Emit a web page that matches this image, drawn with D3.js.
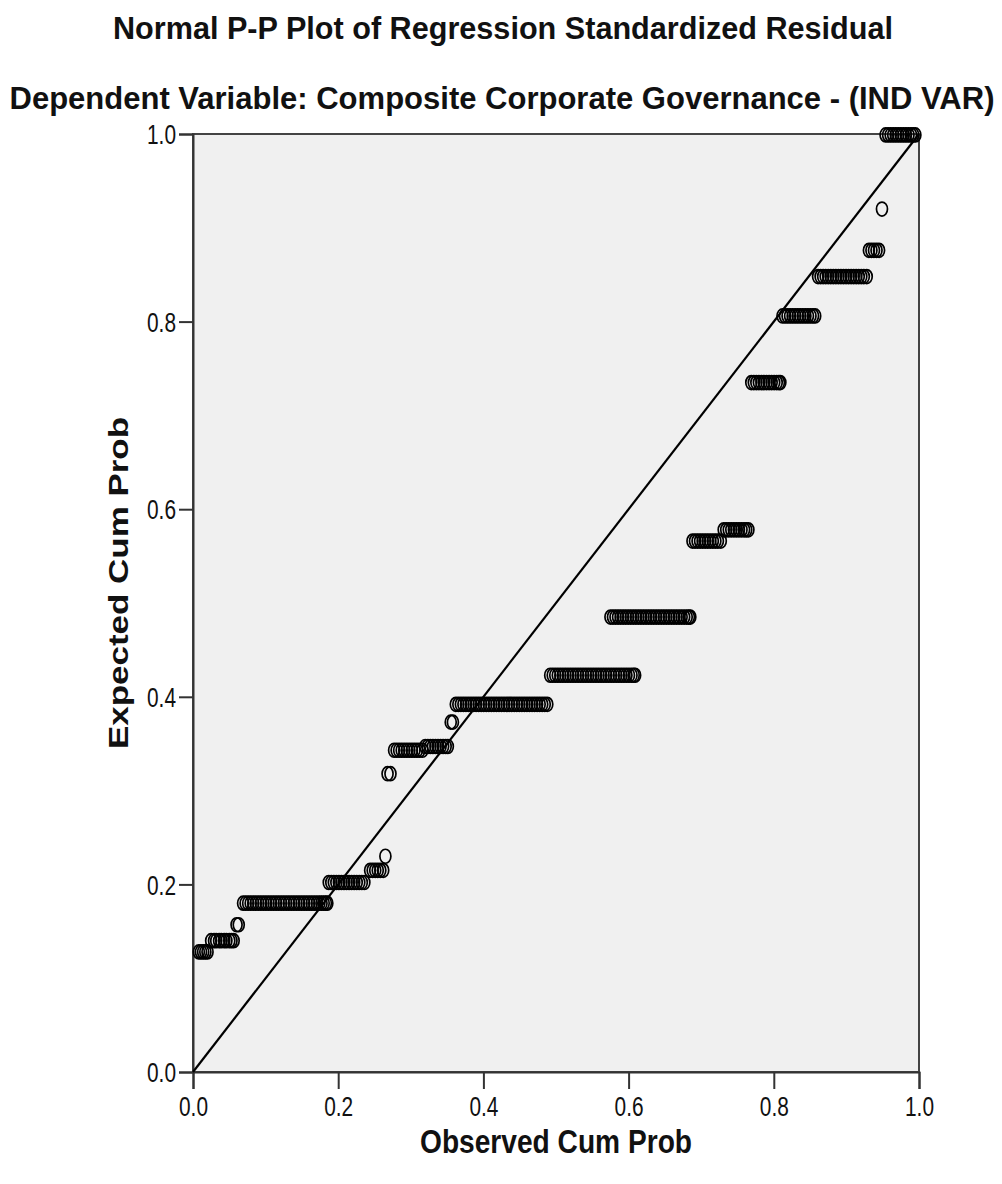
<!DOCTYPE html>
<html>
<head>
<meta charset="utf-8">
<script src="https://cdn.jsdelivr.net/npm/d3@7"></script>
<style>
  body { margin: 0; background: #fff; }
  text { font-family: "Liberation Sans", Arial, sans-serif; fill: #111; }
</style>
</head>
<body>
<div id="main"></div>
<script>
const ctx = { w: 1002, h: 1184 };
const margin = { top: 134, right: 83, bottom: 112, left: 193 };

const titleText = "Normal P-P Plot of Regression Standardized Residual";
const subtitleText = "Dependent Variable: Composite Corporate Governance - (IND VAR)";
const xLabel = "Observed Cum Prob";
const yLabel = "Expected Cum Prob";
const tickValues = [0, 0.2, 0.4, 0.6, 0.8, 1.0];

// expected cum prob of each tie group
const expected = [0.128, 0.140, 0.157, 0.180, 0.202, 0.215, 0.230, 0.318, 0.343, 0.347, 0.373,
                  0.392, 0.423, 0.485, 0.566, 0.578, 0.735, 0.806, 0.848, 0.876, 0.920, 0.999];
// observed cum prob of the cases in each group
const observed = [
    [0.008, 0.011, 0.014, 0.017, 0.020],
    [0.025, 0.029, 0.032, 0.036, 0.039, 0.043, 0.046, 0.050, 0.053, 0.056],
    [0.060, 0.063],
    [0.069, 0.0725, 0.076, 0.0795, 0.083, 0.0865, 0.090, 0.0935, 0.097, 0.1005, 0.104, 0.1075, 0.111, 0.1145,
     0.118, 0.1215, 0.125, 0.1285, 0.132, 0.1355, 0.139, 0.1425, 0.146, 0.1495, 0.153, 0.1565, 0.160, 0.1635,
     0.167, 0.1705, 0.174, 0.177, 0.180, 0.183, 0.185],
    [0.187, 0.1905, 0.194, 0.1975, 0.201, 0.2045, 0.208, 0.2115, 0.215, 0.2185, 0.222, 0.2255, 0.229, 0.2325, 0.236],
    [0.244, 0.2475, 0.251, 0.2545, 0.258, 0.262],
    [0.265],
    [0.268, 0.272],
    [0.277, 0.2805, 0.284, 0.2875, 0.291, 0.2945, 0.298, 0.3015, 0.305, 0.3085, 0.312, 0.316],
    [0.320, 0.3235, 0.327, 0.3305, 0.334, 0.3375, 0.341, 0.3445, 0.348, 0.351],
    [0.355, 0.358],
    [0.362, 0.3655, 0.369, 0.3725, 0.376, 0.3795, 0.383, 0.3865, 0.390, 0.3935, 0.397, 0.4005, 0.404, 0.4075,
     0.411, 0.4145, 0.418, 0.4215, 0.425, 0.4285, 0.432, 0.4355, 0.439, 0.4425, 0.446, 0.4495, 0.453, 0.4565,
     0.460, 0.4635, 0.467, 0.4705, 0.474, 0.4775, 0.481, 0.4845, 0.488],
    [0.492, 0.4955, 0.499, 0.5025, 0.506, 0.5095, 0.513, 0.5165, 0.520, 0.5235, 0.527, 0.5305, 0.534, 0.5375,
     0.541, 0.5445, 0.548, 0.5515, 0.555, 0.5585, 0.562, 0.5655, 0.569, 0.5725, 0.576, 0.5795, 0.583, 0.5865,
     0.590, 0.5935, 0.597, 0.6005, 0.604, 0.607, 0.609],
    [0.575, 0.5785, 0.582, 0.5855, 0.589, 0.5925, 0.596, 0.5995, 0.603, 0.6065, 0.610, 0.6135, 0.617, 0.6205,
     0.624, 0.6275, 0.631, 0.6345, 0.638, 0.6415, 0.645, 0.6485, 0.652, 0.6555, 0.659, 0.6625, 0.666, 0.6695,
     0.673, 0.6765, 0.680, 0.683, 0.685],
    [0.688, 0.6915, 0.695, 0.6985, 0.702, 0.7055, 0.709, 0.7125, 0.716, 0.7195, 0.723, 0.727],
    [0.731, 0.7345, 0.738, 0.7415, 0.745, 0.7485, 0.752, 0.7555, 0.759, 0.762, 0.765],
    [0.769, 0.7725, 0.776, 0.7795, 0.783, 0.7865, 0.790, 0.7935, 0.797, 0.8005, 0.804, 0.807, 0.809],
    [0.812, 0.8155, 0.819, 0.8225, 0.826, 0.8295, 0.833, 0.8365, 0.840, 0.8435, 0.847, 0.8505, 0.854, 0.857],
    [0.861, 0.8645, 0.868, 0.8715, 0.875, 0.8785, 0.882, 0.8855, 0.889, 0.8925, 0.896, 0.8995, 0.903, 0.9065,
     0.910, 0.9135, 0.917, 0.9205, 0.924, 0.928],
    [0.931, 0.9345, 0.938, 0.9415, 0.945],
    [0.949],
    [0.954, 0.9575, 0.961, 0.9645, 0.968, 0.9715, 0.975, 0.9785, 0.982, 0.9855, 0.989, 0.992, 0.995]
];

function createViz() {
    const svg = d3.select("#main").append("svg")
        .attr("width", ctx.w)
        .attr("height", ctx.h);

    const pw = ctx.w - margin.left - margin.right;
    const ph = ctx.h - margin.top - margin.bottom;

    const x = d3.scaleLinear().domain([0, 1]).range([0, pw]);
    const y = d3.scaleLinear().domain([0, 1]).range([ph, 0]);

    // titles
    svg.append("text")
        .attr("x", 503).attr("y", 39)
        .attr("text-anchor", "middle")
        .attr("textLength", 780).attr("lengthAdjust", "spacingAndGlyphs")
        .style("font-size", "31px").style("font-weight", "bold")
        .text(titleText);
    svg.append("text")
        .attr("x", 502).attr("y", 109)
        .attr("text-anchor", "middle")
        .attr("textLength", 985).attr("lengthAdjust", "spacingAndGlyphs")
        .style("font-size", "31px").style("font-weight", "bold")
        .text(subtitleText);

    const g = svg.append("g")
        .attr("transform", `translate(${margin.left},${margin.top})`);

    g.append("rect")
        .attr("width", pw).attr("height", ph)
        .attr("fill", "#f0f0f0")
        .attr("stroke", "#444").attr("stroke-width", 2);

    // axes
    const xAxis = g.append("g")
        .attr("transform", `translate(0,${ph})`)
        .call(d3.axisBottom(x).tickValues(tickValues).tickSize(17).tickFormat(d3.format(".1f")));
    const yAxis = g.append("g")
        .call(d3.axisLeft(y).tickValues(tickValues).tickSize(14).tickFormat(d3.format(".1f")));

    [xAxis, yAxis].forEach(a => {
        a.select(".domain").attr("stroke", "#333").attr("stroke-width", 2);
        a.selectAll(".tick line").attr("stroke", "#333").attr("stroke-width", 2);
        a.selectAll(".tick text")
            .attr("fill", "#111")
            .style("font-family", "'Liberation Sans', Arial, sans-serif")
            .style("font-size", "27px")
            .attr("textLength", 29).attr("lengthAdjust", "spacingAndGlyphs");
    });
    xAxis.selectAll(".tick text").attr("y", 25).attr("dy", "0.71em");
    yAxis.selectAll(".tick text").attr("x", -17).attr("dy", "0.36em");

    // diagonal reference line
    g.append("line")
        .attr("x1", x(0)).attr("y1", y(0))
        .attr("x2", x(1)).attr("y2", y(1))
        .attr("stroke", "#000").attr("stroke-width", 2.2);

    // points
    const pts = [];
    expected.forEach((e, i) => observed[i].forEach(o => pts.push({ o: o, e: e })));

    g.append("g")
        .selectAll("ellipse")
        .data(pts)
        .enter().append("ellipse")
        .attr("cx", d => x(d.o))
        .attr("cy", d => y(d.e))
        .attr("rx", 5.5).attr("ry", 7)
        .attr("fill", "none")
        .attr("stroke", "#000")
        .attr("stroke-width", 1.7);

    // axis labels
    svg.append("text")
        .attr("x", 556).attr("y", 1153)
        .attr("text-anchor", "middle")
        .attr("textLength", 272).attr("lengthAdjust", "spacingAndGlyphs")
        .style("font-size", "33px").style("font-weight", "bold")
        .text(xLabel);
    svg.append("text")
        .attr("transform", "translate(128,583) rotate(-90)")
        .attr("text-anchor", "middle")
        .attr("textLength", 332).attr("lengthAdjust", "spacingAndGlyphs")
        .style("font-size", "27px").style("font-weight", "bold")
        .text(yLabel);
}

createViz();
</script>
</body>
</html>
